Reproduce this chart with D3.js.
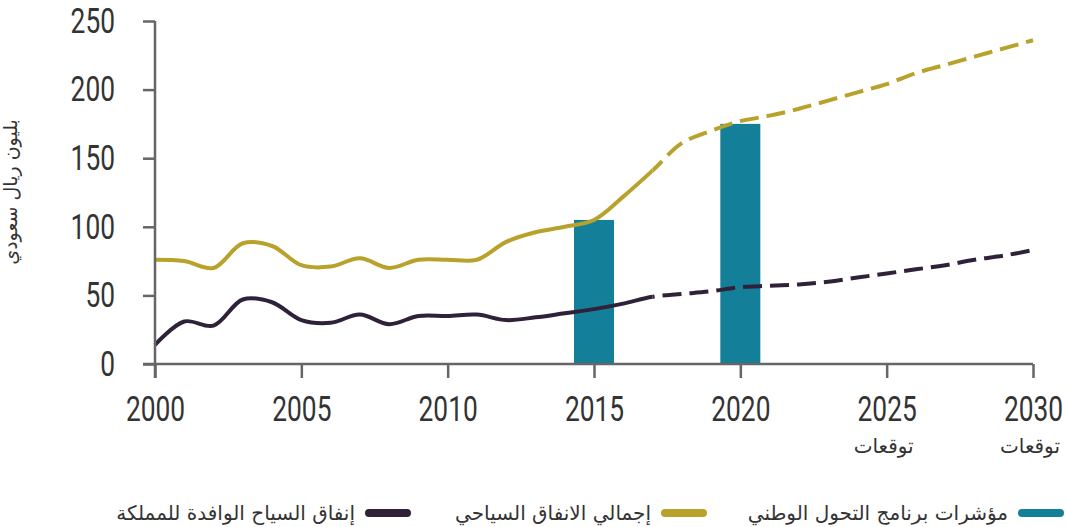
<!DOCTYPE html>
<html>
<head>
<meta charset="utf-8">
<script src="https://cdn.jsdelivr.net/npm/d3@7"></script>
<style>
  body { margin: 0; background: #fff; }
  svg { display: block; }
</style>
</head>
<body>
<div id="app"></div>
<script>
const years = d3.range(2000, 2031);
// إجمالي الانفاق السياحي
const totalSpend = [76, 75, 70, 88, 86, 72, 71, 77, 70, 76, 76, 76, 89, 96, 100, 105,
                    122, 141, 161, 170, 177, 181, 186, 192, 198, 204, 212, 218, 224, 230, 236];
// إنفاق السياح الوافدة للمملكة
const inboundSpend = [14, 31, 28, 47, 45, 32, 30, 36, 29, 35, 35, 36, 32, 34, 37, 40,
                      44, 49, 51, 53, 56, 57, 58, 60, 63, 66, 69, 72, 76, 79, 83];
// مؤشرات برنامج التحول الوطني
const ntpYears = [2015, 2020];
const ntpValues = [105, 175];
const forecastFrom = 2017;

const xTicks = [2000, 2005, 2010, 2015, 2020, 2025, 2030];
const yTicks = [0, 50, 100, 150, 200, 250];
const forecastYears = [2025, 2030];
const forecastLabel = "توقعات";
const yTitle = "بليون ريال سعودي";
const legendLabels = ["مؤشرات برنامج التحول الوطني", "إجمالي الانفاق السياحي", "إنفاق السياح الوافدة للمملكة"];

const colors = {teal: "#147f98", gold: "#b9a22b", dark: "#2f2139", axis: "#666"};
const numFont = "Roboto, 'Liberation Sans', sans-serif";
const arFont = "'DejaVu Sans', sans-serif";

const W = 1066, H = 527;
const x = d3.scaleLinear().domain([2000, 2030]).range([155, 1033]);
const y = d3.scaleLinear().domain([0, 250]).range([364, 21]);

const svg = d3.select("#app").append("svg")
    .attr("width", W)
    .attr("height", H);

// bars
svg.append("g").selectAll("rect")
    .data(ntpYears.map((yr, i) => ({yr, v: ntpValues[i]})))
    .join("rect")
        .attr("x", d => x(d.yr) - 20)
        .attr("width", 40)
        .attr("y", d => y(d.v))
        .attr("height", d => y(0) - y(d.v))
        .attr("fill", colors.teal);

// clip regions: solid (actual) vs dashed (forecast)
const defs = svg.append("defs");
defs.append("clipPath").attr("id", "actual")
    .append("rect").attr("x", 0).attr("y", 0).attr("width", x(forecastFrom)).attr("height", H);
defs.append("clipPath").attr("id", "forecast")
    .append("rect").attr("x", x(forecastFrom)).attr("y", 0).attr("width", W).attr("height", H);

const line = d3.line()
    .x((d, i) => x(years[i]))
    .y(d => y(d))
    .curve(d3.curveCatmullRom.alpha(0.5));

[[totalSpend, colors.gold], [inboundSpend, colors.dark]].forEach(([vals, col]) => {
    svg.append("path")
        .attr("clip-path", "url(#actual)")
        .attr("fill", "none")
        .attr("stroke", col)
        .attr("stroke-width", 4)
        .attr("d", line(vals));
    svg.append("path")
        .attr("clip-path", "url(#forecast)")
        .attr("fill", "none")
        .attr("stroke", col)
        .attr("stroke-width", 4)
        .attr("stroke-dasharray", "19 8")
        .attr("d", line(vals));
});

// axes
const yAxis = svg.append("g")
    .attr("transform", "translate(" + x(2000) + ",0)")
    .call(d3.axisLeft(y).tickValues(yTicks).tickSize(12).tickPadding(28));
const xAxis = svg.append("g")
    .attr("transform", "translate(0," + y(0) + ")")
    .call(d3.axisBottom(x).tickValues(xTicks).tickFormat(d3.format("d")).tickSize(14).tickPadding(18));

[yAxis, xAxis].forEach(g => {
    g.select(".domain").remove();
    g.selectAll("line").attr("stroke", colors.axis).attr("stroke-width", 2.5);
    // condensed look: squeeze digits to ~15px each
    g.selectAll("text")
        .attr("fill", "#333")
        .style("font-family", numFont)
        .style("font-size", "35px")
        .attr("textLength", function() { return this.textContent.length * 14.8; })
        .attr("lengthAdjust", "spacingAndGlyphs");
});

// axis lines, extended past the origin like the original
svg.append("line")
    .attr("x1", x(2000)).attr("x2", x(2000))
    .attr("y1", y(250)).attr("y2", y(0) + 14)
    .attr("stroke", colors.axis).attr("stroke-width", 2.5);
svg.append("line")
    .attr("x1", x(2000) - 12).attr("x2", x(2030))
    .attr("y1", y(0)).attr("y2", y(0))
    .attr("stroke", colors.axis).attr("stroke-width", 2.5);

// forecast notes under 2025 and 2030
svg.append("g").selectAll("text")
    .data(forecastYears)
    .join("text")
        .attr("x", d => x(d) - 3)
        .attr("y", 453)
        .attr("text-anchor", "middle")
        .attr("fill", "#333")
        .style("font-family", arFont)
        .style("font-size", "20px")
        .text(forecastLabel);

// y axis title
svg.append("text")
    .attr("transform", "translate(17,192) rotate(-90)")
    .attr("text-anchor", "middle")
    .attr("fill", "#333")
    .style("font-family", arFont)
    .style("font-size", "19px")
    .text(yTitle);

// legend
const legendItems = [
    {label: legendLabels[0], color: colors.teal, x: 1018},
    {label: legendLabels[1], color: colors.gold, x: 661},
    {label: legendLabels[2], color: colors.dark, x: 365}
];
const lg = svg.append("g").selectAll("g")
    .data(legendItems)
    .join("g")
        .attr("transform", d => "translate(" + d.x + ",513)");
lg.append("line")
    .attr("x1", 4).attr("x2", 42)
    .attr("stroke", d => d.color)
    .attr("stroke-width", 8)
    .attr("stroke-linecap", "round");
lg.append("text")
    .attr("x", -10)
    .attr("y", 7)
    .attr("text-anchor", "end")
    .attr("fill", "#333")
    .style("font-family", arFont)
    .style("font-size", "20px")
    .text(d => d.label);
</script>
</body>
</html>
